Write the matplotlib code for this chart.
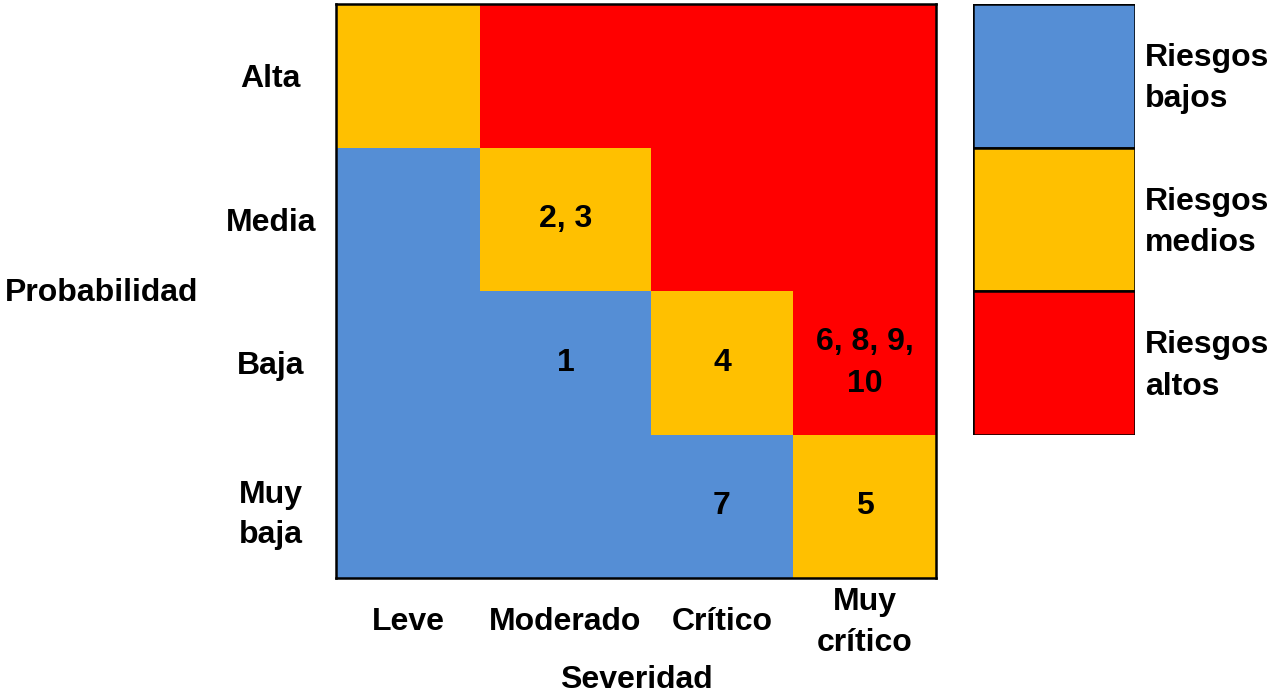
import matplotlib.pyplot as plt
from matplotlib.colors import ListedColormap
from matplotlib.transforms import blended_transform_factory, offset_copy
import numpy as np

plt.rcParams['font.family'] = ['Liberation Sans', 'DejaVu Sans']
plt.rcParams['font.weight'] = 'bold'

# Risk matrix data
severidad = ["Leve", "Moderado", "Crítico", "Muy\ncrítico"]
probabilidad = ["Alta", "Media", "Baja", "Muy\nbaja"]
# 0 = bajo, 1 = medio, 2 = alto (rows top to bottom)
nivel = [
    [1, 2, 2, 2],
    [0, 1, 2, 2],
    [0, 0, 1, 2],
    [0, 0, 0, 1],
]
riesgos = [
    ["", "", "", ""],
    ["", "2, 3", "", ""],
    ["", "1", "4", "6, 8, 9,\n10"],
    ["", "", "7", "5"],
]
leyenda = ["Riesgos\nbajos", "Riesgos\nmedios", "Riesgos\naltos"]
colores = ["#558ED5", "#FFC000", "#FF0000"]

FS = 23
LS = 1.5

# column widths in the grid (Moderado is a bit wider)
col_w = [144, 171, 142, 143]
x_edges = np.concatenate([[0], np.cumsum(col_w)])
y_edges = np.arange(len(probabilidad) + 1)
x_mid = (x_edges[:-1] + x_edges[1:]) / 2
y_mid = y_edges[:-1] + 0.5

W, H = 1270, 696
fig = plt.figure(figsize=(W / 100, H / 100), dpi=100)
ax = fig.add_axes([336 / W, 1 - 578 / H, 600 / W, 574 / H])

cmap = ListedColormap(colores)
ax.pcolormesh(x_edges, y_edges, np.array(nivel), cmap=cmap, vmin=-0.5, vmax=2.5)
ax.set_xlim(x_edges[0], x_edges[-1])
ax.set_ylim(y_edges[-1], y_edges[0])

for i, fila in enumerate(riesgos):
    for j, txt in enumerate(fila):
        if txt:
            ax.text(x_mid[j], y_mid[i], txt, ha='center', va='center',
                    fontsize=FS, fontweight='bold', linespacing=LS)

ax.set_xticks(x_mid, severidad)
ax.set_yticks(y_mid, probabilidad)
ax.tick_params(length=0, labelsize=FS)
ax.tick_params(axis='x', pad=32)
ax.tick_params(axis='y', pad=47)
for lab in ax.get_xticklabels():
    lab.set_va('center')
    lab.set_linespacing(1.45)
    lab.set_fontweight('bold')
for lab in ax.get_yticklabels():
    lab.set_ha('center')
    lab.set_linespacing(1.45)
    lab.set_fontweight('bold')
for sp in ax.spines.values():
    sp.set_linewidth(1.8)

fig.text(5 / W, 1 - 293 / H, "Probabilidad", ha='left', va='center',
         fontsize=FS, fontweight='bold')
fig.text(636 / W, 1 - 680 / H, "Severidad", ha='center', va='center',
         fontsize=FS, fontweight='bold')

# colour key
axl = fig.add_axes([973 / W, 1 - 435 / H, 162 / W, 431 / H])
for k, (lab, c) in enumerate(zip(leyenda, colores)):
    axl.bar(0.5, 1, bottom=k, width=1, color=c, edgecolor='black', linewidth=1.8)
axl.set_xlim(0, 1)
axl.set_ylim(len(leyenda), 0)
axl.axis('off')
tr = blended_transform_factory(axl.transAxes, axl.transData)
tr = offset_copy(tr, fig=fig, y=-2, units='points')
for k, lab in enumerate(leyenda):
    axl.text(1.06, k + 0.5, lab, transform=tr, ha='left', va='center',
             fontsize=FS, fontweight='bold', linespacing=LS)

fig.savefig("out.png", dpi=100)
